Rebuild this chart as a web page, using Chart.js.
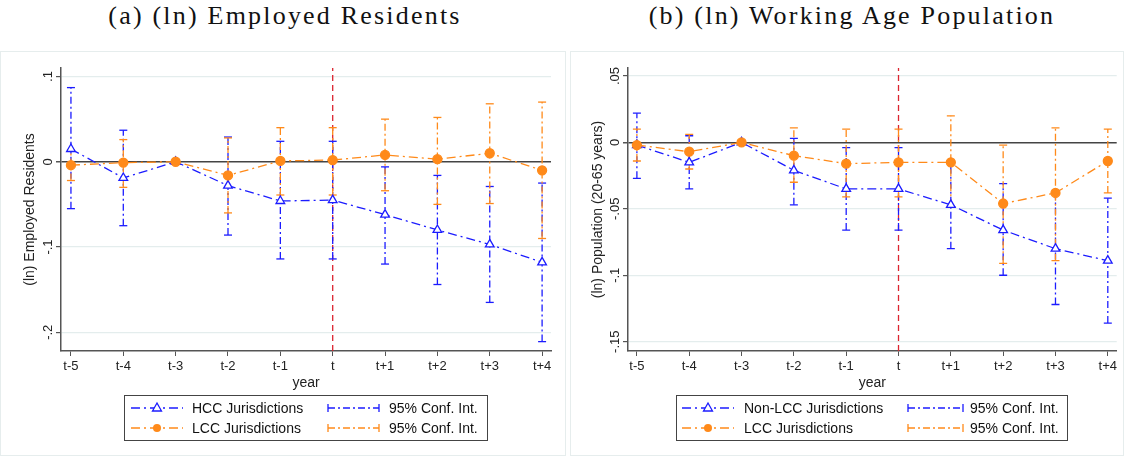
<!DOCTYPE html>
<html>
<head>
<meta charset="utf-8">
<script src="https://cdn.jsdelivr.net/npm/chart.js@4.4.1/dist/chart.umd.min.js"></script>
<style>
body { margin: 0; background: #fff; width: 1124px; height: 461px; position: relative; overflow: hidden; }
.title { position: absolute; top: 1px; font-family: "Liberation Serif", serif; font-size: 26px; letter-spacing: 2.2px; color: #111; text-align: center; white-space: nowrap; }
.panel { position: absolute; top: 51px; height: 405px; border: 1px solid #e6eded; box-sizing: border-box; }
canvas { position: absolute; left: 0; top: 0; }
</style>
</head>
<body>
<div class="title" style="left:0;width:570px;">(a) (ln) Employed Residents</div>
<div class="title" style="left:570px;width:564px;">(b) (ln) Working Age Population</div>
<div class="panel" style="left:0;width:566px;"><canvas id="chartA"></canvas></div>
<div class="panel" style="left:570px;width:554px;"><canvas id="chartB"></canvas></div>
<script>
// event time, relative to the year of treatment t
var periods = [-5, -4, -3, -2, -1, 0, 1, 2, 3, 4];
var periodLabels = ["t-5", "t-4", "t-3", "t-2", "t-1", "t", "t+1", "t+2", "t+3", "t+4"];

// (a) employed residents
var hccCoef = [0.015, -0.019, 0, -0.028, -0.046, -0.045, -0.062, -0.080, -0.097, -0.118];
var hccLo   = [-0.055, -0.075, null, -0.086, -0.114, -0.114, -0.120, -0.144, -0.165, -0.211];
var hccHi   = [0.087, 0.037, null, 0.029, 0.024, 0.024, -0.006, -0.016, -0.029, -0.025];
var lccCoefA = [-0.004, -0.001, 0, -0.016, 0.001, 0.002, 0.008, 0.003, 0.010, -0.010];
var lccLoA   = [-0.022, -0.030, null, -0.060, -0.039, -0.039, -0.034, -0.050, -0.049, -0.090];
var lccHiA   = [0.014, 0.026, null, 0.028, 0.040, 0.040, 0.050, 0.052, 0.068, 0.070];
var yTicksA = [0.1, 0, -0.1, -0.2];
var yTickLabelsA = [".1", "0", "-.1", "-.2"];

// (b) working age population
var nonCoef = [-0.002, -0.015, 0, -0.021, -0.035, -0.035, -0.047, -0.066, -0.080, -0.089];
var nonLo   = [-0.027, -0.035, null, -0.047, -0.066, -0.066, -0.080, -0.100, -0.122, -0.136];
var nonHi   = [0.022, 0.005, null, 0.003, -0.004, -0.004, -0.014, -0.031, -0.038, -0.042];
var lccCoefB = [-0.002, -0.007, 0, -0.010, -0.016, -0.015, -0.015, -0.046, -0.038, -0.014];
var lccLoB   = [-0.014, -0.020, null, -0.030, -0.041, -0.041, -0.048, -0.091, -0.089, -0.038];
var lccHiB   = [0.010, 0.006, null, 0.011, 0.010, 0.010, 0.020, -0.002, 0.011, 0.010];
var yTicksB = [0.05, 0, -0.05, -0.1, -0.15];
var yTickLabelsB = [".05", "0", "-.05", "-.1", "-.15"];

var BLUE = "#1c1cff";
var ORANGE = "#ff8a1a";
var RED = "#dc2430";
var AXIS = "#555";
var GRID = "#e4eded";
var FONT = '"Liberation Sans", Arial, sans-serif';
var LINE_DASH = [9, 4, 2, 4];
var CI_DASH = [7, 3, 2, 3];

function seriesPoints(coef) {
    return periods.map(function (p, i) { return { x: p, y: coef[i] }; });
}

function ciPoints(lo, hi) {
    let pts = [];
    periods.forEach(function (p, i) {
        if (lo[i] === null) return;
        pts.push({ x: p, y: lo[i] });
        pts.push({ x: p, y: hi[i] });
        pts.push({ x: p, y: null });
    });
    return pts;
}

// rotated y tick labels and the boxed legend, Stata style
var stataDecor = {
    id: "stataDecor",
    afterDraw: function (chart, args, opts) {
        let ctx = chart.ctx;
        let ys = chart.scales.y;
        ctx.save();
        ctx.font = "13px " + FONT;
        ctx.fillStyle = "#222";
        ctx.textAlign = "center";
        ctx.textBaseline = "middle";
        opts.tickValues.forEach(function (v, i) {
            let py = ys.getPixelForValue(v);
            ctx.save();
            ctx.translate(ys.right - 13, py);
            ctx.rotate(-Math.PI / 2);
            ctx.fillText(opts.tickLabels[i], 0, 0);
            ctx.restore();
        });

        let lg = opts.legend;
        ctx.strokeStyle = "#444";
        ctx.lineWidth = 1;
        ctx.setLineDash([]);
        ctx.strokeRect(lg.x + 0.5, lg.y + 0.5, lg.w, lg.h);

        lg.items.forEach(function (it) {
            let y = lg.y + it.row;
            let x0 = lg.x + it.sx0, x1 = lg.x + it.sx1;
            ctx.strokeStyle = it.color;
            ctx.lineWidth = 1.3;
            ctx.setLineDash(it.ci ? CI_DASH : LINE_DASH);
            ctx.beginPath();
            ctx.moveTo(x0, y);
            ctx.lineTo(x1, y);
            ctx.stroke();
            ctx.setLineDash([]);
            if (it.ci) {
                ctx.beginPath();
                ctx.moveTo(x0, y - 4); ctx.lineTo(x0, y + 4);
                ctx.moveTo(x1, y - 4); ctx.lineTo(x1, y + 4);
                ctx.stroke();
            } else {
                let mx = (x0 + x1) / 2;
                if (it.marker === "triangle") {
                    ctx.fillStyle = "#fff";
                    ctx.beginPath();
                    ctx.moveTo(mx, y - 5); ctx.lineTo(mx + 4.5, y + 3); ctx.lineTo(mx - 4.5, y + 3);
                    ctx.closePath(); ctx.fill(); ctx.stroke();
                } else {
                    ctx.fillStyle = it.color;
                    ctx.beginPath(); ctx.arc(mx, y, 4, 0, Math.PI * 2); ctx.fill();
                }
            }
            ctx.fillStyle = "#111";
            ctx.textAlign = "left";
            ctx.font = "14px " + FONT;
            ctx.fillText(it.label, lg.x + it.tx, y + 1);
        });
        ctx.restore();
    }
};

function buildChart(canvasId, cfg) {
    let canvas = document.getElementById(canvasId);
    canvas.width = cfg.width;
    canvas.height = 403;

    let datasets = [
        {
            label: cfg.labelB, data: seriesPoints(cfg.coefB), showLine: true,
            borderColor: ORANGE, borderWidth: 1.3, borderDash: LINE_DASH,
            pointStyle: "circle", pointRadius: 4.5, pointBackgroundColor: ORANGE, pointBorderColor: ORANGE
        },
        {
            label: cfg.labelA, data: seriesPoints(cfg.coefA), showLine: true,
            borderColor: BLUE, borderWidth: 1.3, borderDash: LINE_DASH,
            pointStyle: "triangle", pointRadius: 5, pointBackgroundColor: "#fff", pointBorderColor: BLUE, pointBorderWidth: 1.3
        },
        {
            label: "95% Conf. Int.", data: ciPoints(cfg.loB, cfg.hiB), showLine: true, spanGaps: false,
            borderColor: ORANGE, borderWidth: 1.3, borderDash: CI_DASH,
            pointStyle: "line", pointRadius: 4, pointBorderColor: ORANGE, pointBorderWidth: 1.3
        },
        {
            label: "95% Conf. Int.", data: ciPoints(cfg.loA, cfg.hiA), showLine: true, spanGaps: false,
            borderColor: BLUE, borderWidth: 1.3, borderDash: CI_DASH,
            pointStyle: "line", pointRadius: 4, pointBorderColor: BLUE, pointBorderWidth: 1.3
        },
        {
            label: "treatment", data: [{ x: 0, y: cfg.yMin }, { x: 0, y: cfg.yMax }], showLine: true,
            borderColor: RED, borderWidth: 1.3, borderDash: [6, 4], pointRadius: 0
        }
    ];

    return new Chart(canvas.getContext("2d"), {
        type: "scatter",
        data: { datasets: datasets },
        options: {
            responsive: false,
            animation: false,
            layout: { padding: { top: 16, right: cfg.padRight, bottom: 60, left: 0 } },
            plugins: {
                legend: { display: false },
                tooltip: { enabled: false },
                stataDecor: {
                    tickValues: cfg.yTicks,
                    tickLabels: cfg.yTickLabels,
                    legend: cfg.legend
                }
            },
            scales: {
                x: {
                    type: "linear",
                    min: cfg.xMin, max: cfg.xMax,
                    afterBuildTicks: function (s) { s.ticks = periods.map(function (p) { return { value: p }; }); },
                    afterFit: function (s) { s.height = 44; },
                    ticks: {
                        color: "#222", font: { family: FONT, size: 13 }, padding: 3, maxRotation: 0,
                        callback: function (v) { return periodLabels[periods.indexOf(v)]; }
                    },
                    grid: { drawOnChartArea: false, drawTicks: true, tickLength: 5, tickColor: AXIS },
                    border: { color: AXIS, width: 1.5 },
                    title: { display: true, text: "year", color: "#222", font: { family: FONT, size: 14 }, padding: { top: 0, bottom: 3 } }
                },
                y: {
                    type: "linear",
                    min: cfg.yMin, max: cfg.yMax,
                    afterBuildTicks: function (s) { s.ticks = cfg.yTicks.map(function (v) { return { value: v }; }); },
                    afterFit: function (s) { s.width = cfg.yAxisWidth; },
                    ticks: { display: false },
                    grid: {
                        drawTicks: true, tickLength: 5, tickColor: AXIS,
                        color: function (c) { return c.tick && c.tick.value === 0 ? "#444" : GRID; },
                        lineWidth: function (c) { return c.tick && c.tick.value === 0 ? 1.5 : 1.2; }
                    },
                    border: { color: AXIS, width: 1.5 },
                    title: { display: true, text: cfg.yTitle, color: "#222", font: { family: FONT, size: 14 }, padding: { top: cfg.yTitlePad, bottom: 0 } }
                }
            }
        },
        plugins: [stataDecor]
    });
}

buildChart("chartA", {
    width: 564, padRight: 14, yAxisWidth: 60, yTitlePad: 21,
    xMin: -5.19, xMax: 4.17, yMin: -0.222, yMax: 0.11,
    yTicks: yTicksA, yTickLabels: yTickLabelsA, yTitle: "(ln) Employed Residents",
    coefA: hccCoef, loA: hccLo, hiA: hccHi, labelA: "HCC Jurisdictions",
    coefB: lccCoefA, loB: lccLoA, hiB: lccHiA, labelB: "LCC Jurisdictions",
    legend: {
        x: 123, y: 343, w: 363, h: 45,
        items: [
            { row: 13, sx0: 7, sx1: 59, tx: 68, color: BLUE, marker: "triangle", label: "HCC Jurisdictions" },
            { row: 33, sx0: 7, sx1: 59, tx: 68, color: ORANGE, marker: "circle", label: "LCC Jurisdictions" },
            { row: 13, sx0: 204, sx1: 255, tx: 265, color: BLUE, ci: true, label: "95% Conf. Int." },
            { row: 33, sx0: 204, sx1: 255, tx: 265, color: ORANGE, ci: true, label: "95% Conf. Int." }
        ]
    }
});

buildChart("chartB", {
    width: 552, padRight: 6, yAxisWidth: 57, yTitlePad: 19,
    xMin: -5.17, xMax: 4.17, yMin: -0.157, yMax: 0.056,
    yTicks: yTicksB, yTickLabels: yTickLabelsB, yTitle: "(ln) Population (20-65 years)",
    coefA: nonCoef, loA: nonLo, hiA: nonHi, labelA: "Non-LCC Jurisdictions",
    coefB: lccCoefB, loB: lccLoB, hiB: lccHiB, labelB: "LCC Jurisdictions",
    legend: {
        x: 105, y: 343, w: 391, h: 45,
        items: [
            { row: 13, sx0: 6, sx1: 58, tx: 68, color: BLUE, marker: "triangle", label: "Non-LCC Jurisdictions" },
            { row: 33, sx0: 6, sx1: 58, tx: 68, color: ORANGE, marker: "circle", label: "LCC Jurisdictions" },
            { row: 13, sx0: 232, sx1: 287, tx: 294, color: BLUE, ci: true, label: "95% Conf. Int." },
            { row: 33, sx0: 232, sx1: 287, tx: 294, color: ORANGE, ci: true, label: "95% Conf. Int." }
        ]
    }
});
</script>
</body>
</html>
